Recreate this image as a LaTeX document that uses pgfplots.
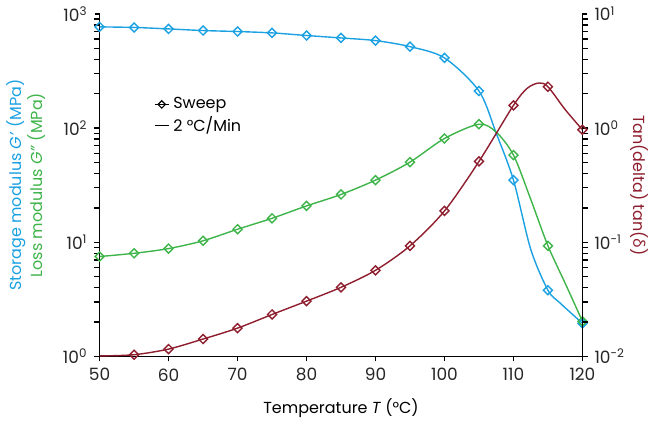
\documentclass[border=0pt]{standalone}
\usepackage{fontspec}
\setmainfont{Poppins}
\newfontfamily\grk{Open Sans}
\usepackage{xcolor}
\usepackage{pgfplots}
\usepackage{pgfplotstable}
\pgfplotsset{compat=1.18}
\definecolor{gblue}{HTML}{1BA1E2}
\definecolor{ggreen}{HTML}{3EB44A}
\definecolor{gred}{HTML}{8E1D2D}

% sweep points (markers)
\pgfplotstableread{
T    Gp    Gpp    tand
50   769   7.5    0.0101
55   760   8.0    0.01035
60   738   8.8    0.0116
65   714   10.3   0.0142
70   700   13.0   0.0177
75   681   16.2   0.0233
80   646   20.8   0.0305
85   615   26.2   0.0403
90   583   35     0.0568
95   516   50.3   0.093
100  411   81     0.188
105  211   108    0.51
110  35    58     1.58
115  3.8   9.3    2.30
120  1.95  2.03   0.966
}\sweep

\tikzset{
  sweepmk/.style={only marks, mark=square, mark size=1.6pt,
    mark options={rotate=45, solid, line width=0.7pt, fill=white}},
  curvestyle/.style={no marks, smooth, line width=0.7pt},
}

\begin{document}
\begin{tikzpicture}
\begin{axis}[
  width=241bp, height=171bp, scale only axis,
  xmin=50, xmax=120,
  ymode=log,
  tick align=outside,
  major tick length=2.5bp,
  minor tick num=0,
  axis line style={line width=0.7pt, black},
  every tick/.append style={line width=0.7pt, black},
  tick label style={font=\fontsize{8.5}{10}\selectfont, color=black!85},
  /pgf/number format/assume math mode=true,
  label style={font=\fontsize{8}{9}\selectfont},
  axis x line*=bottom, axis y line*=left,
  ymin=1, ymax=1000,
  xtick={50,60,...,120},
  ytick={1,10,100,1000},
  yticklabels={10\textsuperscript{0},10\textsuperscript{1},10\textsuperscript{2},10\textsuperscript{3}},
  xlabel={Temperature \textit{T} (°C)},
  xlabel style={at={(axis description cs:0.5,-0.15)}, anchor=center},
  ylabel={\textcolor{gblue}{Storage modulus \textit{G'} (MPa)}\\\textcolor{ggreen}{Loss modulus \textit{G''} (MPa)}},
  ylabel style={at={(axis description cs:-0.152,0.5)}, anchor=center, align=center},
  legend style={at={(axis description cs:0.108,0.775)}, anchor=north west,
    draw=none, fill=none, font=\fontsize{8}{9}\selectfont,
    row sep=-1.5bp, inner sep=1bp},
  legend cell align=left,
  legend image code/.code={
    \draw[#1] (0bp,0bp) -- (7bp,0bp);
    \draw[#1, only marks] plot coordinates {(3.5bp,0bp)};
  },
]
\addplot[curvestyle, gblue, forget plot] coordinates {(50,769) (55,760) (60,738) (65,714) (70,700) (75,681) (80,646) (85,615) (90,583) (95,516) (100,411) (105,211) (107.5,90) (110,35) (112.5,8.7) (115,3.8) (116.7,2.96) (120,1.95)};
\addplot[sweepmk, gblue, forget plot] table[x=T, y=Gp] {\sweep};
\addplot[curvestyle, ggreen, forget plot] coordinates {(50,7.5) (55,8.0) (60,8.8) (65,10.3) (70,13.0) (75,16.2) (80,20.8) (85,26.2) (90,35) (95,50.3) (100,81) (105,108) (107.5,92) (110,58) (112.5,23.8) (115,9.3) (117.5,4.37) (120,2.03)};
\addplot[sweepmk, ggreen, forget plot] table[x=T, y=Gpp] {\sweep};
\addlegendimage{black, line width=0.6pt, mark=square, mark size=1.3pt, mark options={rotate=45, solid, fill=white}}
\addlegendentry{Sweep}
\addlegendimage{black, line width=0.6pt, no marks}
\addlegendentry{2 °C/Min}
\end{axis}

\begin{axis}[
  width=241bp, height=171bp, scale only axis,
  xmin=50, xmax=120,
  ymode=log,
  tick align=outside,
  major tick length=2.5bp,
  minor tick num=0,
  axis line style={line width=0.7pt, black},
  every tick/.append style={line width=0.7pt, black},
  tick label style={font=\fontsize{8.5}{10}\selectfont, color=black!85},
  label style={font=\fontsize{8}{9}\selectfont},
  axis x line=none, axis y line*=right,
  ymin=0.01, ymax=10,
  ytick={0.01,0.1,1,10},
  yticklabels={10\textsuperscript{-2},10\textsuperscript{-1},10\textsuperscript{0},10\textsuperscript{1}},
  ylabel={\textcolor{gred}{Tan(delta) tan({\grk δ})}},
  ylabel style={at={(axis description cs:1.118,0.5)}, anchor=center, rotate=180},
]
\addplot[curvestyle, gred] coordinates {(50,0.0101) (55,0.01035) (60,0.0116) (65,0.0142) (70,0.0177) (75,0.0233) (80,0.0305) (85,0.0403) (90,0.0568) (95,0.093) (100,0.188) (105,0.51) (110,1.58) (112,2.23) (113.7,2.48) (115,2.30) (117.5,1.45) (120,0.966)};
\addplot[sweepmk, gred, skip coords between index={0}{1}] table[x=T, y=tand] {\sweep};
\end{axis}
\end{tikzpicture}
\end{document}
